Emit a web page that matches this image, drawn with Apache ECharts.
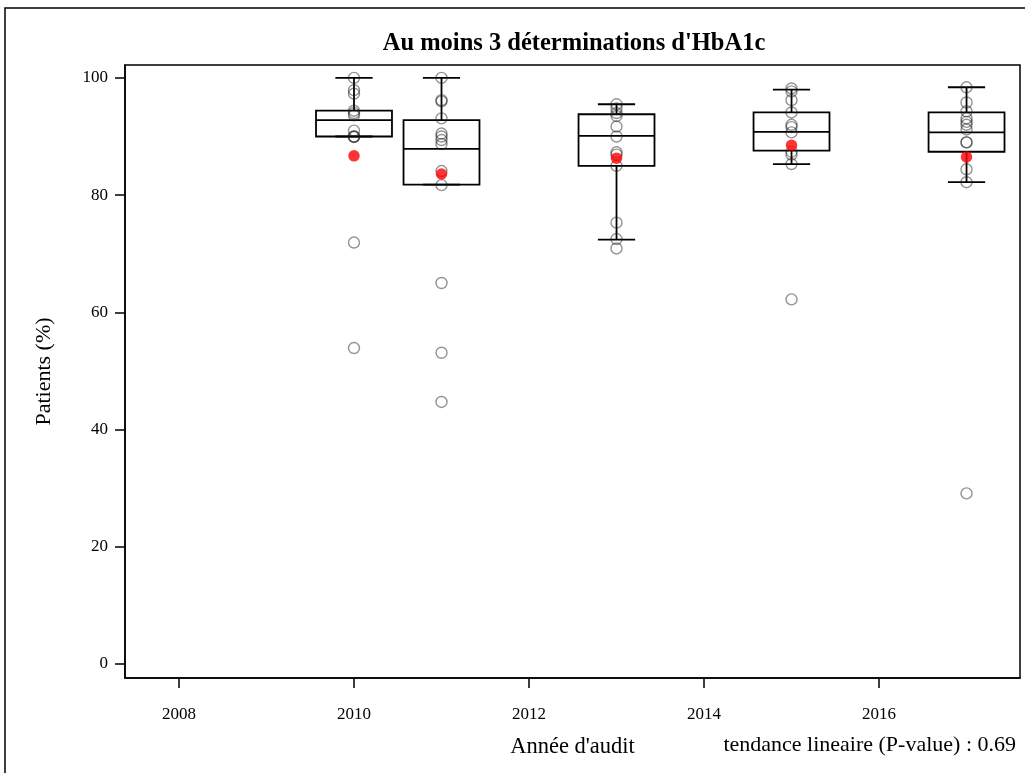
<!DOCTYPE html>
<html>
<head>
<meta charset="utf-8">
<script src="https://cdn.jsdelivr.net/npm/echarts@6/dist/echarts.min.js"></script>
<style>
html,body{margin:0;padding:0;background:#fff;}
#chart{width:1025px;height:773px;}
</style>
</head>
<body>
<div id="chart"></div>
<script>
// ---- data ----
const years = [2010, 2011, 2013, 2015, 2017];
const boxMin    = [90.0, 81.8, 72.4, 85.3, 82.2];
const boxQ1     = [90.0, 81.8, 85.0, 87.6, 87.4];
const boxMedian = [92.8, 87.9, 90.1, 90.8, 90.7];
const boxQ3     = [94.4, 92.8, 93.8, 94.1, 94.1];
const boxMax    = [100.0, 100.0, 95.5, 98.0, 98.4];

const pts2010 = [100, 97.9, 97.3, 94.4, 94.0, 93.6, 91.0, 90.0, 90.0, 89.9, 71.9, 53.9];
const pts2011 = [100, 96.2, 96.0, 93.1, 90.5, 90.0, 89.4, 88.7, 84.1, 81.7, 65.0, 53.1, 44.7];
const pts2013 = [95.5, 94.8, 94.0, 93.5, 91.7, 90.0, 87.3, 86.9, 85.0, 75.3, 72.5, 70.9];
const pts2015 = [98.2, 97.7, 96.2, 94.1, 92.0, 91.6, 90.7, 87.4, 86.9, 85.3, 62.2];
const pts2017 = [98.4, 95.8, 94.3, 93.1, 92.5, 92.0, 91.2, 89.0, 89.0, 84.4, 82.2, 29.1];
const redPoints = [86.7, 83.6, 86.3, 88.5, 86.5];

const xTicks = [2008, 2010, 2012, 2014, 2016];
const yTicks = [0, 20, 40, 60, 80, 100];

const titleText = "Au moins 3 déterminations d'HbA1c";
const xName = "Année d'audit";
const yName = "Patients (%)";
const noteText = "tendance lineaire (P-value) : 0.69";

// ---- build series data ----
const boxData = years.map((y, i) => [y, boxMin[i], boxQ1[i], boxMedian[i], boxQ3[i], boxMax[i]]);
const allPts = [pts2010, pts2011, pts2013, pts2015, pts2017];
const circleData = [];
allPts.forEach((arr, i) => arr.forEach(v => circleData.push([years[i], v])));
const redData = years.map((y, i) => [y, redPoints[i]]);

const FONT = "'Liberation Serif','Times New Roman',serif";
const chart = echarts.init(document.getElementById('chart'), null, {renderer: 'canvas'});

chart.setOption({
  animation: false,
  backgroundColor: '#fff',
  grid: {left: 125, right: 5, top: 65, bottom: 95, show: true, borderColor: '#000', borderWidth: 1.5, backgroundColor: 'transparent'},
  xAxis: {
    type: 'value', min: 2007.383, max: 2017.611,
    name: xName, nameLocation: 'middle', nameGap: 58,
    nameTextStyle: {fontFamily: FONT, fontSize: 22.5, color: '#000'},
    axisLine: {show: true, onZero: false, lineStyle: {color: '#000', width: 1.5}},
    splitLine: {show: false},
    axisTick: {show: true, customValues: xTicks, length: 10, lineStyle: {color: '#000', width: 1.5}},
    axisLabel: {customValues: xTicks, formatter: v => String(v), fontFamily: FONT, fontSize: 17, color: '#000', margin: 28}
  },
  yAxis: {
    type: 'value', min: -2.4, max: 102.2,
    name: yName, nameLocation: 'middle', nameGap: 70, nameRotate: 90,
    nameTextStyle: {fontFamily: FONT, fontSize: 22, color: '#000'},
    axisLine: {show: true, onZero: false, lineStyle: {color: '#000', width: 1.5}},
    splitLine: {show: false},
    axisTick: {show: true, customValues: yTicks, length: 10, lineStyle: {color: '#000', width: 1.5}},
    axisLabel: {customValues: yTicks, formatter: v => String(v), fontFamily: FONT, fontSize: 17, color: '#000', margin: 17}
  },
  graphic: [
    {type: 'rect', silent: true, z: 100, shape: {x: 5, y: 8, width: 1300, height: 1000},
     style: {fill: 'none', stroke: '#000', lineWidth: 1.5}},
    {type: 'text', silent: true, x: 574, y: 44,
     style: {text: titleText, font: "bold 24.5px " + FONT, fill: '#000', textAlign: 'center', textVerticalAlign: 'middle'}},
    {type: 'text', silent: true, x: 1016, y: 745,
     style: {text: noteText, font: "22px " + FONT, fill: '#000', textAlign: 'right', textVerticalAlign: 'middle'}}
  ],
  series: [
    {
      type: 'custom',
      data: boxData,
      encode: {x: 0, y: [1, 2, 3, 4, 5]},
      z: 2,
      renderItem: function (params, api) {
        const x = api.value(0);
        const mn = api.value(1), q1 = api.value(2), md = api.value(3), q3 = api.value(4), mx = api.value(5);
        const pxYear = api.size([1, 0])[0];
        const hb = pxYear * 0.434, hc = hb * 0.49;
        const pMin = api.coord([x, mn]), pQ1 = api.coord([x, q1]), pMd = api.coord([x, md]),
              pQ3 = api.coord([x, q3]), pMax = api.coord([x, mx]);
        const cx = pMin[0];
        const st = {stroke: '#000', lineWidth: 1.8, fill: 'none'};
        return {
          type: 'group',
          children: [
            {type: 'line', shape: {x1: cx, y1: pMax[1], x2: cx, y2: pQ3[1]}, style: st},
            {type: 'line', shape: {x1: cx, y1: pQ1[1], x2: cx, y2: pMin[1]}, style: st},
            {type: 'line', shape: {x1: cx - hc, y1: pMax[1], x2: cx + hc, y2: pMax[1]}, style: st},
            {type: 'line', shape: {x1: cx - hc, y1: pMin[1], x2: cx + hc, y2: pMin[1]}, style: st},
            {type: 'rect', shape: {x: cx - hb, y: pQ3[1], width: 2 * hb, height: pQ1[1] - pQ3[1]}, style: st},
            {type: 'line', shape: {x1: cx - hb, y1: pMd[1], x2: cx + hb, y2: pMd[1]}, style: st}
          ]
        };
      }
    },
    {
      type: 'scatter', data: circleData, symbol: 'circle', symbolSize: 11, z: 3,
      itemStyle: {color: 'rgba(0,0,0,0)', borderColor: 'rgba(30,30,30,0.6)', borderWidth: 1.4},
      emphasis: {disabled: true}
    },
    {
      type: 'scatter', data: redData, symbol: 'circle', symbolSize: 11.5, z: 4,
      itemStyle: {color: '#ff0000'},
      emphasis: {disabled: true}
    }
  ]
});
</script>
</body>
</html>
